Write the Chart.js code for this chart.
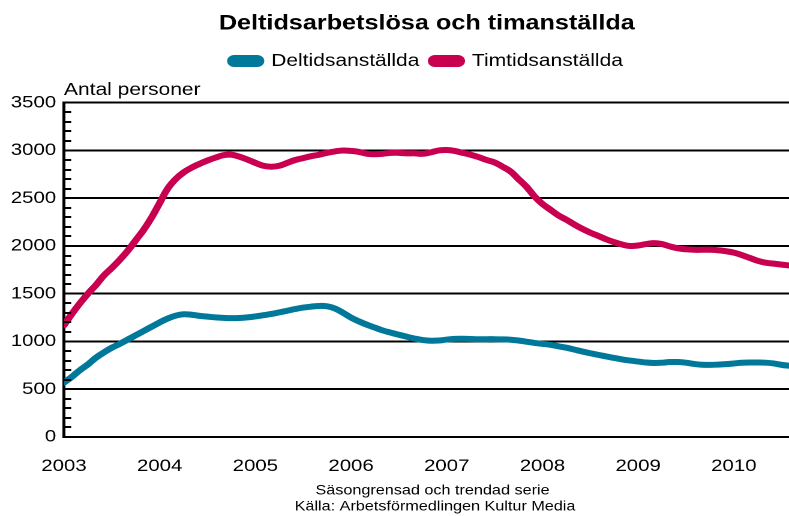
<!DOCTYPE html>
<html>
<head>
<meta charset="utf-8">
<script src="https://cdn.jsdelivr.net/npm/chart.js@4/dist/chart.umd.min.js"></script>
<style>
html,body{margin:0;padding:0;background:#fff;overflow:hidden;}
#wrap{width:789px;height:516px;overflow:hidden;position:relative;}
#c{position:absolute;left:0;top:0;transform:scaleX(1.2);transform-origin:0 0;}
</style>
</head>
<body>
<div id="wrap"><canvas id="c" width="658" height="516"></canvas></div>
<script>
const yearLabels = ["2003","2004","2005","2006","2007","2008","2009","2010"];
const yTicks = [0,500,1000,1500,2000,2500,3000,3500];
const seriesNames = ["Deltidsanställda","Timtidsanställda"];
// Monthly values, Jan 2003 .. Aug 2010
const deltid = [570,630,700,760,830,885,935,975,1020,1065,1110,1155,
  1200,1240,1270,1285,1280,1268,1260,1252,1247,1244,1246,1252,
  1262,1275,1288,1305,1322,1340,1355,1365,1372,1368,1345,1300,
  1250,1210,1175,1145,1115,1092,1070,1050,1030,1015,1008,1010,
  1020,1027,1028,1026,1024,1024,1024,1022,1018,1010,998,985,
  975,965,950,935,915,895,877,860,843,828,812,800,
  790,780,775,778,785,785,778,765,757,755,758,763,
  770,777,780,780,778,770,755,745];
const timtid = [1170,1290,1400,1500,1590,1690,1770,1855,1950,2060,2170,2300,
  2450,2600,2700,2770,2820,2860,2895,2925,2950,2955,2935,2905,
  2870,2840,2830,2840,2870,2900,2920,2940,2955,2975,2990,3000,
  2995,2985,2965,2960,2965,2975,2975,2970,2970,2965,2980,3000,
  3005,2995,2975,2955,2930,2900,2875,2830,2780,2700,2620,2520,
  2440,2380,2320,2275,2225,2180,2140,2105,2070,2040,2015,2000,
  2005,2020,2030,2020,1995,1975,1965,1960,1960,1960,1955,1945,
  1930,1905,1875,1845,1825,1815,1805,1795];
const footerLines = ["Säsongrensad och trendad serie","Källa: Arbetsförmedlingen Kultur Media"];
const yAxisTitle = "Antal personer";
const chartTitle = "Deltidsarbetslösa och timanställda";

const FONT = "'Liberation Sans', Arial, Helvetica, sans-serif";
const BLUE = "#00789a";
const RED = "#c8004f";

const toXY = arr => arr.map((v,i)=>({x:i,y:v}));

const minorTicks = {
  id:'minorTicks',
  afterDatasetsDraw(chart){
    const y = chart.scales.y, ctx = chart.ctx, left = chart.chartArea.left;
    ctx.save();
    ctx.strokeStyle = '#000'; ctx.lineWidth = 2;
    for(let v=0; v<=3500; v+=100){
      if(v%500===0) continue;
      const py = Math.round(y.getPixelForValue(v));
      ctx.beginPath(); ctx.moveTo(left, py); ctx.lineTo(left+6, py); ctx.stroke();
    }
    ctx.restore();
  }
};
const footer = {
  id:'footer',
  afterDraw(chart){
    const ctx = chart.ctx;
    ctx.save();
    ctx.fillStyle = '#000';
    ctx.font = "13.5px " + FONT;
    ctx.textAlign = 'center'; ctx.textBaseline = 'middle';
    ctx.fillText(footerLines[0], 360.4, 491);
    ctx.fillText(footerLines[1], 362.5, 507);
    ctx.restore();
  }
};

new Chart(document.getElementById('c'), {
  type:'line',
  data:{
    datasets:[
      {label:seriesNames[0], data:toXY(deltid), borderColor:BLUE, backgroundColor:BLUE, borderWidth:6, pointRadius:0, tension:0.4, borderCapStyle:'round', borderJoinStyle:'round'},
      {label:seriesNames[1], data:toXY(timtid), borderColor:RED, backgroundColor:RED, borderWidth:6, pointRadius:0, tension:0.4, borderCapStyle:'round', borderJoinStyle:'round'}
    ]
  },
  options:{
    responsive:false, animation:false, devicePixelRatio:2,
    layout:{padding:{top:0,right:0,left:0,bottom:33}},
    plugins:{
      title:{display:true, text:chartTitle, fullSize:false, color:'#000', font:{family:FONT, size:21, weight:'bold'}, padding:{top:11,bottom:6}},
      legend:{display:true, fullSize:false, labels:{color:'#000', font:{family:FONT, size:17.5}, boxWidth:25, boxHeight:6, useBorderRadius:true, borderRadius:3, padding:10}},
      subtitle:{display:true, text:yAxisTitle, fullSize:false, align:'start', weight:500, color:'#000', font:{family:FONT, size:17.5}, padding:{top:0,bottom:2}},
      tooltip:{enabled:false}
    },
    scales:{
      x:{type:'linear', min:0, max:91,
        afterFit(s){ s.height = 46; },
        afterBuildTicks(s){ s.ticks = yearLabels.map((l,i)=>({value:i*12})); },
        ticks:{color:'#000', font:{family:FONT, size:17}, padding:19, autoSkip:false, maxRotation:0,
          callback:(v)=> yearLabels[Math.round(v/12)]},
        grid:{display:false, drawTicks:false}, border:{display:false}},
      y:{min:0, max:3500,
        afterFit(s){ s.width = 53.3; },
        afterBuildTicks(s){ s.ticks = yTicks.map(v=>({value:v})); },
        ticks:{color:'#000', font:{family:FONT, size:17}, padding:6.5, callback:(v)=>String(v)},
        grid:{color:'#000', lineWidth:2, drawTicks:false},
        border:{display:true, color:'#000', width:2.5}}
    }
  },
  plugins:[minorTicks, footer]
});
</script>
</body>
</html>
